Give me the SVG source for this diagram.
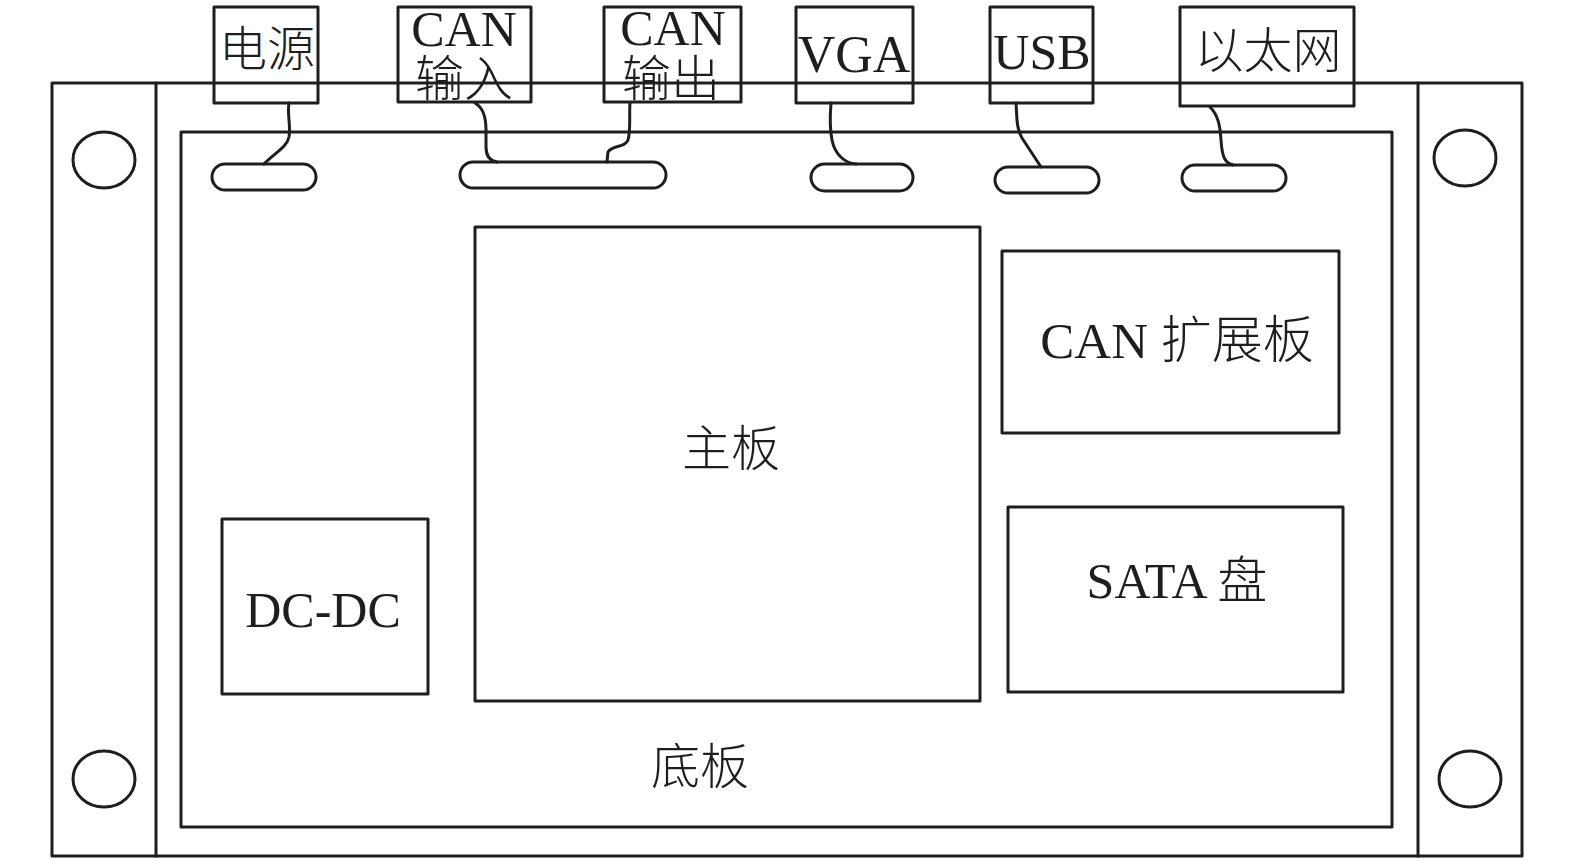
<svg xmlns="http://www.w3.org/2000/svg" width="1575" height="862" viewBox="0 0 1575 862">
<style>
.s{fill:none;stroke:#1e1e1e;stroke-width:3;stroke-linejoin:round;stroke-linecap:round}
.t{font-family:"Liberation Serif","Noto Sans CJK SC",serif;fill:#1e1e1e;text-anchor:middle;font-weight:300}
</style>
<rect width="1575" height="862" fill="#fff"/>
<g id="frame">
<rect class="s" x="52" y="83" width="1470" height="773"/>
<line class="s" x1="156" y1="83" x2="156" y2="856"/>
<line class="s" x1="1418" y1="83" x2="1418" y2="856"/>
<ellipse class="s" cx="104" cy="160" rx="31" ry="28"/>
<ellipse class="s" cx="1465" cy="158" rx="31" ry="28"/>
<ellipse class="s" cx="104" cy="779" rx="31" ry="28"/>
<ellipse class="s" cx="1470" cy="779" rx="31" ry="28"/>
</g>
<g id="baseboard">
<rect class="s" x="181" y="132" width="1211" height="695"/>
<text class="t" x="700" y="784" font-size="49">底板</text>
</g>
<g id="pills">
<rect class="s" x="212" y="164" width="104" height="26" rx="13"/>
<rect class="s" x="460" y="162" width="206" height="26" rx="13"/>
<rect class="s" x="811" y="164" width="102" height="27" rx="13.5"/>
<rect class="s" x="995" y="167" width="104" height="26" rx="13"/>
<rect class="s" x="1182" y="165" width="104" height="26" rx="13"/>
</g>
<g id="connectors">
<path class="s" d="M289,103 C287,115 291,125 289,137 C287,147 276,152 264,164"/>
<path class="s" d="M475,103 C484,108 486,118 486,130 L486,147 C486,156 490,161 497,162"/>
<path class="s" d="M630,103 C629,115 631,130 628,140 C625,148 612,145 608,152 L607,162"/>
<path class="s" d="M831,103 C830,115 830,130 832,140 C835,155 845,163 856,164"/>
<path class="s" d="M1016,103 C1017,115 1016,128 1022,138 L1041,167"/>
<path class="s" d="M1210,107 C1218,115 1220,125 1221,140 C1222,155 1224,163 1233,165"/>
</g>
<g id="n-power">
<rect class="s" x="214" y="7" width="104" height="96"/>
<text class="t" x="267" y="66" font-size="48">电源</text>
</g>
<g id="n-can-in">
<rect class="s" x="398" y="7" width="133" height="95"/>
<text class="t" x="464" y="46" font-size="50">CAN</text>
<text class="t" x="464" y="96" font-size="49">输入</text>
</g>
<g id="n-can-out">
<rect class="s" x="604" y="7" width="137" height="95"/>
<text class="t" x="673" y="45" font-size="50">CAN</text>
<text class="t" x="671" y="96" font-size="49">输出</text>
</g>
<g id="n-vga">
<rect class="s" x="796" y="7" width="117" height="96"/>
<text class="t" x="854" y="72" font-size="52">VGA</text>
</g>
<g id="n-usb">
<rect class="s" x="990" y="7" width="103" height="96"/>
<text class="t" x="1042" y="69" font-size="50">USB</text>
</g>
<g id="n-eth">
<rect class="s" x="1180" y="7" width="174" height="99"/>
<text class="t" x="1268" y="68" font-size="49">以太网</text>
</g>
<g id="n-main">
<rect class="s" x="475" y="227" width="505" height="474"/>
<text class="t" x="731" y="466" font-size="49">主板</text>
</g>
<g id="n-canext">
<rect class="s" x="1002" y="251" width="337" height="182"/>
<text class="t" x="1177" y="358" font-size="51">CAN 扩展板</text>
</g>
<g id="n-sata">
<rect class="s" x="1008" y="507" width="335" height="185"/>
<text class="t" x="1177" y="598" font-size="50">SATA 盘</text>
</g>
<g id="n-dcdc">
<rect class="s" x="222" y="519" width="206" height="175"/>
<text class="t" x="323" y="627" font-size="50">DC-DC</text>
</g>
</svg>
